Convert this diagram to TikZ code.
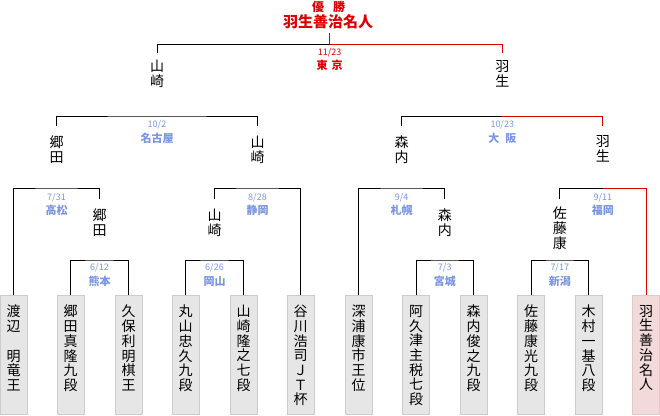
\documentclass[tikz,border=0pt]{standalone}
\usepackage{fontspec}
\usetikzlibrary{calc}
\setmainfont{Noto Sans CJK JP}
\definecolor{win}{RGB}{221,0,0}
\definecolor{place}{RGB}{122,150,226}
\definecolor{boxfill}{RGB}{230,230,230}
\definecolor{boxline}{RGB}{204,204,204}
\definecolor{winfill}{RGB}{242,218,218}
\definecolor{winline}{RGB}{226,200,200}
\begin{document}
\begin{tikzpicture}[x=1pt,y=-1pt,
  line/.style={draw=black, line width=1pt},
  redline/.style={draw=win, line width=1pt},
  player/.style={draw=boxline, fill=boxfill, line width=1pt, minimum width=27pt, minimum height=119pt, anchor=north, inner sep=0pt},
  champbox/.style={player, draw=winline, fill=winfill},
  boxtext/.style={anchor=north, inner sep=0pt, align=center, font=\fontsize{14}{14.7}\selectfont},
  pname/.style={anchor=north, inner xsep=0pt, inner ysep=#1, align=center, font=\fontsize{14}{15}\selectfont},
  date/.style={inner sep=0pt, font=\fontsize{9}{9}\selectfont, text=place},
  venue/.style={inner sep=0pt, font=\fontsize{11}{11}\selectfont\bfseries, text=place},
]
\useasboundingbox (0,0) rectangle (660,415);

% ---- player boxes
\node[player]   (p1)  at (13.5,295) {};
\node[player]   (p2)  at (70.5,295) {};
\node[player]   (p3)  at (128.5,295) {};
\node[player]   (p4)  at (185.5,295) {};
\node[player]   (p5)  at (243.5,295) {};
\node[player]   (p6)  at (300.5,295) {};
\node[player]   (p7)  at (358.5,295) {};
\node[player]   (p8)  at (416,295) {};
\node[player]   (p9)  at (473.5,295) {};
\node[player]   (p10) at (531,295) {};
\node[player]   (p11) at (588.5,295) {};
\node[champbox] (p12) at (646,295) {};

\node[boxtext] (t1)  at (13.5,305)  {渡\\辺\\\mbox{}\\明\\竜\\王};
\node[boxtext] (t2)  at (70.5,305)  {郷\\田\\真\\隆\\九\\段};
\node[boxtext] (t3)  at (128.5,305) {久\\保\\利\\明\\棋\\王};
\node[boxtext] (t4)  at (185.5,305) {丸\\山\\忠\\久\\九\\段};
\node[boxtext] (t5)  at (243.5,305) {山\\崎\\隆\\之\\七\\段};
\node[boxtext] (t6)  at (300.5,305) {谷\\川\\浩\\司\\Ｊ\\Ｔ\\杯};
\node[boxtext] (t7)  at (358.5,305) {深\\浦\\康\\市\\王\\位};
\node[boxtext] (t8)  at (416,305)   {阿\\久\\津\\主\\税\\七\\段};
\node[boxtext] (t9)  at (473.5,305) {森\\内\\俊\\之\\九\\段};
\node[boxtext] (t10) at (531,305)   {佐\\藤\\康\\光\\九\\段};
\node[boxtext] (t11) at (588.5,305) {木\\村\\一\\基\\八\\段};
\node[boxtext] (t12) at (646,305)   {羽\\生\\善\\治\\名\\人};

% ---- round 1
\coordinate (m1) at (99.5,260);
\coordinate (m2) at (214.5,260);
\coordinate (m3) at (444.75,260);
\coordinate (m4) at (559.75,260);
\draw[line] (p2.north) |- (m1) -| (p3.north);
\draw[line] (p4.north) |- (m2) -| (p5.north);
\draw[line] (p8.north) |- (m3) -| (p9.north);
\draw[line] (p10.north) |- (m4) -| (p11.north);
\node[date]  (d1a) at ($(m1)+(0,8)$) {6/12};
\node[venue] (v1a) at ($(m1)+(0,21)$) {熊本};
\node[date]  (d1b) at ($(m2)+(0,8)$) {6/26};
\node[venue] (v1b) at ($(m2)+(0,21)$) {岡山};
\node[date]  (d1c) at ($(m3)+(0,8)$) {7/3};
\node[venue] (v1c) at ($(m3)+(0,21)$) {宮城};
\node[date]  (d1d) at ($(m4)+(0,8)$) {7/17};
\node[venue] (v1d) at ($(m4)+(0,21)$) {新潟};

% ---- round 1 winners
\node[pname=10pt] (w1a) at (99.5,199)  {郷\\田};
\node[pname=10pt] (w1b) at (214.5,199) {山\\崎};
\node[pname=10pt] (w1c) at (444.75,199) {森\\内};
\node[pname=8pt]  (w1d) at (559.75,199) {佐\\藤\\康};

% ---- round 2
\coordinate (k2a) at (56.5,188);
\coordinate (k2b) at (257.5,188);
\coordinate (k2c) at (401.6,188);
\coordinate (k2d) at (602.9,188);
\draw[line] (p1.north) |- (k2a) -| (w1a.north);
\draw[line] (w1b.north) |- (k2b) -| (p6.north);
\draw[line] (p7.north) |- (k2c) -| (w1c.north);
\draw[line] (w1d.north) |- (k2d);
\draw[redline] (k2d) -| (p12.north);
\node[date]  (d2a) at ($(k2a)+(0,10)$) {7/31};
\node[venue] (v2a) at ($(k2a)+(0,22)$) {高松};
\node[date]  (d2b) at ($(k2b)+(0,10)$) {8/28};
\node[venue] (v2b) at ($(k2b)+(0,22)$) {静岡};
\node[date]  (d2c) at ($(k2c)+(0,10)$) {9/4};
\node[venue] (v2c) at ($(k2c)+(0,22)$) {札幌};
\node[date]  (d2d) at ($(k2d)+(0,10)$) {9/11};
\node[venue] (v2d) at ($(k2d)+(0,22)$) {福岡};

% ---- round 2 winners
\node[pname=9.5pt] (w2a) at (56.5,126)  {郷\\田};
\node[pname=9.5pt] (w2b) at (257.5,126) {山\\崎};
\node[pname=9.5pt] (w2c) at (401.6,126) {森\\内};
\node[pname=9.5pt] (w2d) at (602.9,126) {羽\\生};

% ---- round 3
\coordinate (k3a) at (157,116);
\coordinate (k3b) at (502.25,116);
\draw[line] (w2a.north) |- (k3a) -| (w2b.north);
\draw[line] (w2c.north) |- (k3b);
\draw[redline] (k3b) -| (w2d.north);
\node[date]  (d3a) at ($(k3a)+(0,9)$) {10/2};
\node[venue] (v3a) at ($(k3a)+(0,22)$) {名古屋};
\node[date]  (d3b) at ($(k3b)+(0,9)$) {10/23};
\node[venue] (v3b) at ($(k3b)+(0,22)$) {大\hspace{6pt}阪};

% ---- finalists
\node[pname=7pt] (w3a) at (157,53)    {山\\崎};
\node[pname=7pt] (w3b) at (502.25,53) {羽\\生};

% ---- final
\coordinate (kf) at (329.6,44);
\node[inner xsep=0pt, inner ysep=4pt, anchor=south, text=win, font=\fontsize{15}{15}\selectfont\bfseries] (champ) at (328,33) {羽生善治名人};
\node[inner sep=0pt, text=win, font=\fontsize{12}{12}\selectfont\bfseries] (title) at (328.5,6.5) {優\hspace{9pt}勝};
\draw[line] (w3a.north) |- (kf);
\draw[redline] (kf) -| (w3b.north);
\draw[redline] (kf) -- (kf |- champ.south);
\node[inner sep=0pt, text=win, font=\fontsize{9}{9}\selectfont] (df) at ($(kf)+(0,9)$) {11/23};
\node[inner sep=0pt, text=win, font=\fontsize{11}{11}\selectfont\bfseries] (vf) at ($(kf)+(0,21)$) {東\hspace{4pt}京};
\end{tikzpicture}
\end{document}
